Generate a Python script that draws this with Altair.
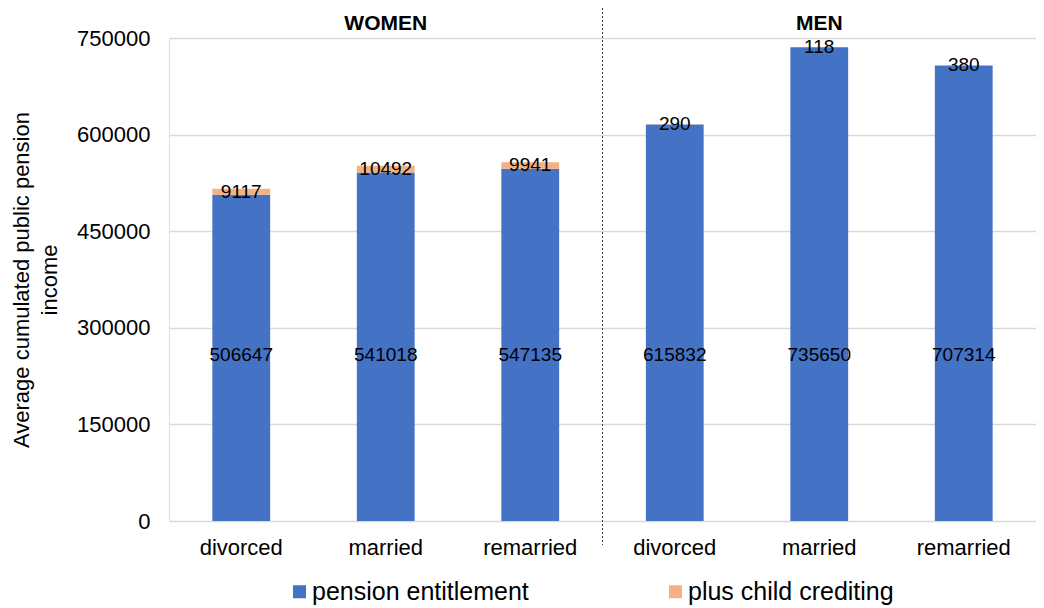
import altair as alt
import pandas as pd

groups = ["WOMEN", "WOMEN", "WOMEN", "MEN", "MEN", "MEN"]
statuses = ["divorced", "married", "remarried", "divorced", "married", "remarried"]
pension = [506647, 541018, 547135, 615832, 735650, 707314]
child = [9117, 10492, 9941, 290, 118, 380]
series = ["pension entitlement", "plus child crediting"]
colors = ["#4472C4", "#F4B183"]

keys = [f"{g}|{s}" for g, s in zip(groups, statuses)]
order = keys

rows = []
for k, g, s, p, c in zip(keys, groups, statuses, pension, child):
    rows.append({"key": k, "group": g, "status": s, "series": series[0], "value": p, "ord": 0})
    rows.append({"key": k, "group": g, "status": s, "series": series[1], "value": c, "ord": 1})
df = pd.DataFrame(rows)

wide = pd.DataFrame({"key": keys, "pension": pension, "child": child})
hdr = pd.DataFrame({"key": [keys[1], keys[4]], "label": ["WOMEN", "MEN"]})
sep = pd.DataFrame({"key": [keys[2]]})

FONT = "Liberation Sans"
W, H = 867, 483
STEP = W / 6.0

xenc = alt.X("key:N", sort=order, title=None,
             scale=alt.Scale(paddingInner=0.6, paddingOuter=0.3),
             axis=alt.Axis(labelExpr="split(datum.value, '|')[1]", labelFontSize=22,
                           labelColor="#000000", labelFont=FONT, labelPadding=16,
                           ticks=False, domain=False, labelAngle=0))

bars = alt.Chart(df).mark_bar().encode(
    x=xenc,
    y=alt.Y("sum(value):Q", stack="zero",
            scale=alt.Scale(domain=[0, 750000], nice=False),
            title=["Average cumulated public pension", "income"],
            axis=alt.Axis(values=[0, 150000, 300000, 450000, 600000, 750000],
                          format="d", labelFontSize=22, labelColor="#000000",
                          labelFont=FONT, labelPadding=19, ticks=False, domain=False,
                          grid=True, gridColor="#d9d9d9", gridWidth=1.3,
                          titleFontSize=22, titleFont=FONT, titleFontWeight="normal",
                          titleColor="#000000", titlePadding=15, titleLineHeight=28)),
    color=alt.Color("series:N", scale=alt.Scale(domain=series, range=colors),
                    legend=alt.Legend(title=None, orient="none", direction="horizontal",
                                      legendX=118, legendY=H + 58,
                                      labelFontSize=25, labelFont=FONT, labelColor="#000000",
                                      labelLimit=0,
                                      symbolType="square", symbolSize=169,
                                      symbolStrokeWidth=0, labelOffset=0,
                                      columnPadding=134, padding=0)),
    order=alt.Order("ord:Q"),
)

low_labels = alt.Chart(wide).mark_text(fontSize=19, font=FONT, color="#000000", baseline="middle").encode(
    x=alt.X("key:N", sort=order),
    y=alt.datum(257000),
    text=alt.Text("pension:Q", format="d"),
)

top_labels = alt.Chart(wide).transform_calculate(
    mid="datum.pension + datum.child / 2"
).mark_text(fontSize=19, font=FONT, color="#000000", baseline="middle").encode(
    x=alt.X("key:N", sort=order),
    y=alt.Y("mid:Q"),
    text=alt.Text("child:Q", format="d"),
)

headers = alt.Chart(hdr).mark_text(fontSize=21, font=FONT, fontWeight="bold", color="#000000",
                                   baseline="middle").encode(
    x=alt.X("key:N", sort=order),
    y=alt.value(-14),
    text="label:N",
)

separator = alt.Chart(sep).mark_rule(color="#404040", strokeDash=[2, 2], strokeWidth=1,
                                     xOffset=0.3 * STEP).encode(
    x=alt.X("key:N", sort=order, bandPosition=1),
    y=alt.value(-34),
    y2=alt.value(H + 24),
)

chart = alt.layer(bars, low_labels, top_labels, headers, separator).properties(
    width=W, height=H,
    autosize=alt.AutoSizeParams(type="none"),
    padding={"left": 161, "top": 30, "right": 0, "bottom": 84},
).configure_view(stroke=None).configure(font=FONT)

chart.save("out.html", embed_options={"renderer": "svg", "actions": False})
